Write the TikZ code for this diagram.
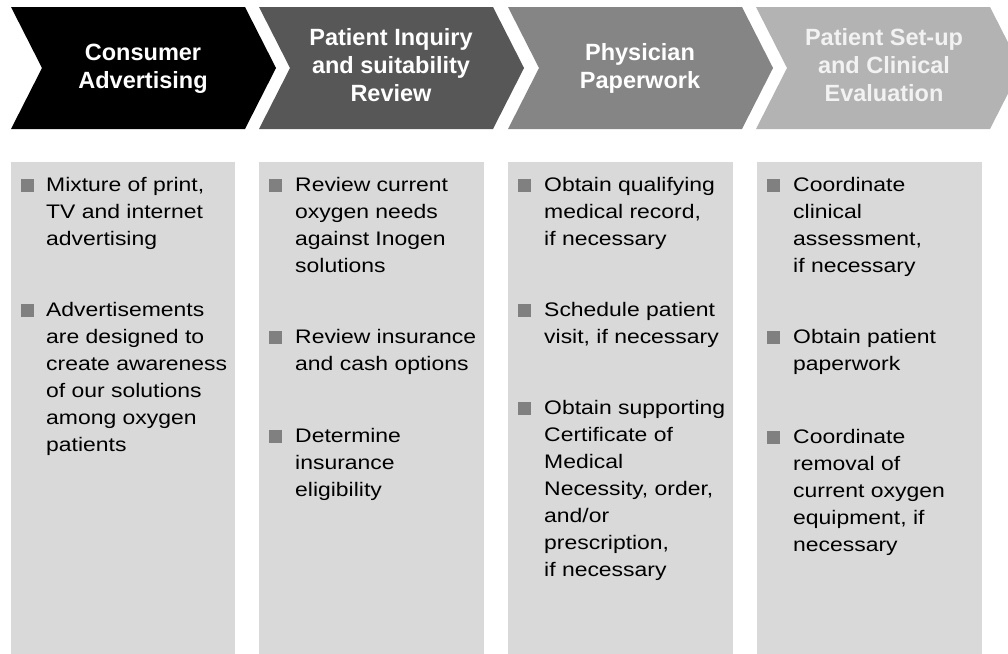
\documentclass[tikz,border=0pt]{standalone}
\usepackage{fontspec}
\setmainfont{Liberation Sans}
\newfontfamily\bodyfont[FakeStretch=1.17]{Liberation Sans}
\newfontfamily\headfont{Liberation Sans}
\definecolor{chevA}{HTML}{000000}
\definecolor{chevB}{HTML}{575757}
\definecolor{chevC}{HTML}{858585}
\definecolor{chevD}{HTML}{B3B3B3}
\definecolor{panelgray}{HTML}{D9D9D9}
\definecolor{bulgray}{HTML}{808080}
\definecolor{headD}{HTML}{F2F2F2}
\tikzset{
  panel/.style={fill=panelgray, draw=none},
  bulletsq/.style={fill=bulgray, draw=none, minimum size=13pt, inner sep=0pt, anchor=south west},
  body/.style={font=\bodyfont\fontsize{19.6}{27}\selectfont, align=left, anchor=base west, inner sep=0pt, text=black},
  head/.style={font=\headfont\bfseries\fontsize{23.5}{28}\selectfont, align=center, anchor=base, inner sep=0pt, text=white},
}
\begin{document}
\begin{tikzpicture}[x=1pt,y=-1pt]
\useasboundingbox (0,0) rectangle (1008,653);
\fill[white] (0,0) rectangle (1008,653);
% chevrons
\fill[chevA] (11,7) -- (245,7) -- (276,68) -- (245,129) -- (11,129) -- (42,68) -- cycle;
\fill[chevB] (259,7) -- (493,7) -- (524,68) -- (493,129) -- (259,129) -- (290,68) -- cycle;
\fill[chevC] (508,7) -- (742,7) -- (773,68) -- (742,129) -- (508,129) -- (539,68) -- cycle;
\fill[chevD] (756,7) -- (990,7) -- (1021,68) -- (990,129) -- (756,129) -- (787,68) -- cycle;
% headers (anchor = baseline of last line)
\node[head] (h1) at (143,88) {Consumer\\Advertising};
\node[head] (h2) at (391,101) {Patient Inquiry\\and suitability\\Review};
\node[head] (h3) at (640,88) {Physician\\Paperwork};
\node[head, text=headD] (h4) at (884,101) {Patient Set-up\\and Clinical\\Evaluation};
% panels
\fill[panel] (11,162) rectangle (235,660);
\fill[panel] (259,162) rectangle (484,660);
\fill[panel] (508,162) rectangle (733,660);
\fill[panel] (757,162) rectangle (982,660);
% column 1
\node[bulletsq] (b11) at (21,192) {};
\node[body] (t11) at (46,245) {Mixture of print,\\TV and internet\\advertising};
\node[bulletsq] (b12) at (21,317) {};
\node[body] (t12) at (46,451) {Advertisements\\are designed to\\create awareness\\of our solutions\\among oxygen\\patients};
% column 2
\node[bulletsq] (b21) at (269,192) {};
\node[body] (t21) at (295,272) {Review current\\oxygen needs\\against Inogen\\solutions};
\node[bulletsq] (b22) at (269,344) {};
\node[body] (t22) at (295,370) {Review insurance\\and cash options};
\node[bulletsq] (b23) at (269,443) {};
\node[body] (t23) at (295,496) {Determine\\insurance\\eligibility};
% column 3
\node[bulletsq] (b31) at (518,192) {};
\node[body] (t31) at (544,245) {Obtain qualifying\\medical record,\\if necessary};
\node[bulletsq] (b32) at (518,317) {};
\node[body] (t32) at (544,343) {Schedule patient\\visit, if necessary};
\node[bulletsq] (b33) at (518,415) {};
\node[body] (t33) at (544,576) {Obtain supporting\\Certificate of\\Medical\\Necessity, order,\\and/or\\prescription,\\if necessary};
% column 4
\node[bulletsq] (b41) at (767,192) {};
\node[body] (t41) at (793,272) {Coordinate\\clinical\\assessment,\\if necessary};
\node[bulletsq] (b42) at (767,344) {};
\node[body] (t42) at (793,370) {Obtain patient\\paperwork};
\node[bulletsq] (b43) at (767,444) {};
\node[body] (t43) at (793,551) {Coordinate\\removal of\\current oxygen\\equipment, if\\necessary};
\end{tikzpicture}
\end{document}
